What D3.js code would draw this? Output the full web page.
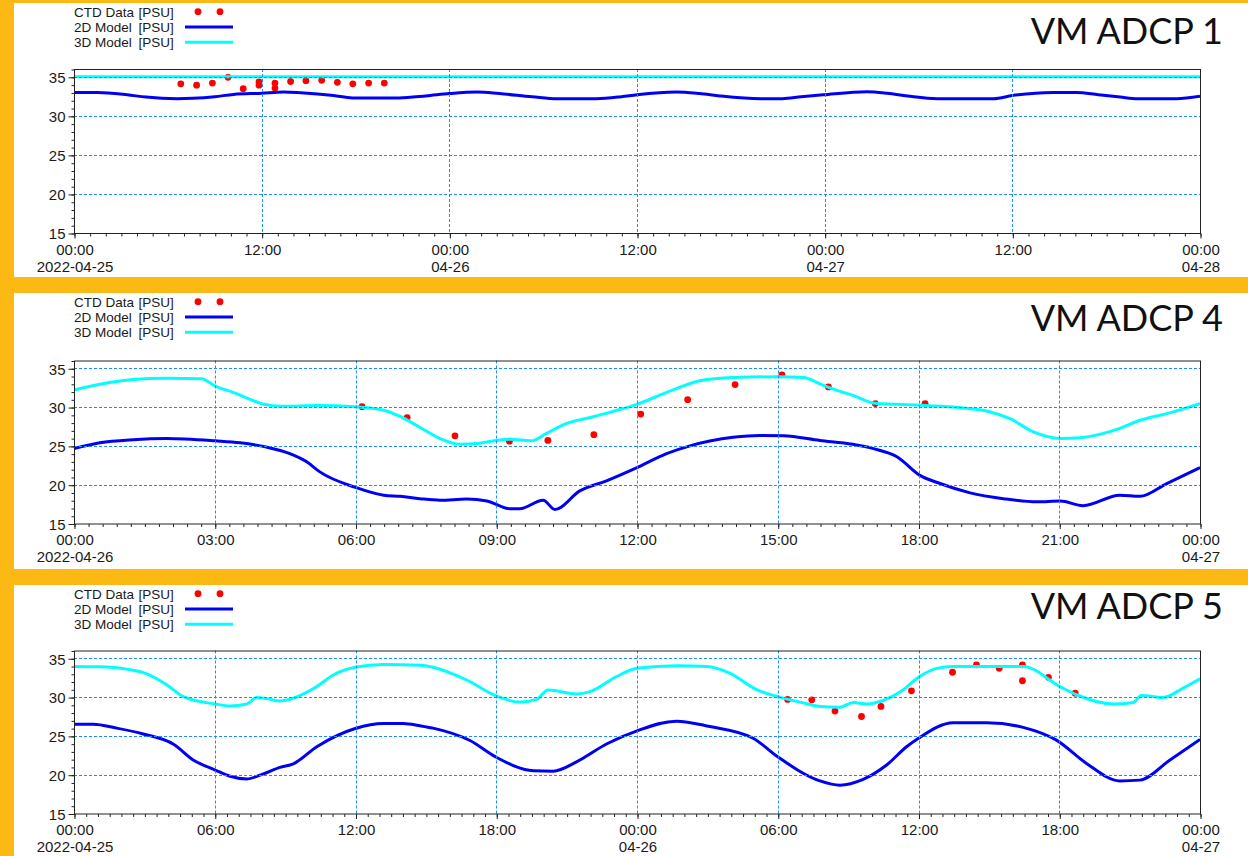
<!DOCTYPE html>
<html><head><meta charset="utf-8">
<script src="https://cdn.jsdelivr.net/npm/d3@7"></script>
<style>html,body{margin:0;padding:0;background:#FDB913;} svg{display:block}</style>
</head><body><svg id="c" width="1248" height="856"></svg>
<script>
// ---------------- DATA ----------------
const titles = ["VM ADCP 1", "VM ADCP 4", "VM ADCP 5"];
const startDates = ["2022-04-25", "2022-04-26", "2022-04-25"];
const spanHours = [72, 24, 48];
const legendLabels = ["CTD Data", "2D Model", "3D Model"];
const legendUnit = "[PSU]";
const yTicks = [15, 20, 25, 30, 35];
const yDomain = [15, 36];

// [hours since start, salinity PSU]
const adcp1_ctd = [[6.83,34.1],[7.84,33.93],[8.85,34.2],[9.85,34.93],[10.82,33.48],[11.83,34.35],[11.83,33.93],
  [12.85,34.2],[12.85,33.56],[13.85,34.4],[14.83,34.5],[15.84,34.55],[16.84,34.3],[17.83,34.1],[18.84,34.2],[19.84,34.2]];
const adcp1_2d = [[0,33.0],[1.5,33.0],[3.4,32.7],[4.6,32.4],[6.6,32.2],[7.6,32.25],[9,32.45],[10.2,32.75],[12,32.9],
  [13.4,33.05],[14.5,32.95],[16.6,32.6],[17.8,32.3],[20.8,32.3],[22.5,32.55],[24,32.85],[25.8,33.05],[27.2,32.85],
  [29.3,32.45],[30.9,32.2],[33.4,32.2],[35,32.45],[36,32.7],[38.5,33.05],[40,32.85],[41.3,32.55],[43.9,32.2],
  [45.3,32.2],[46.5,32.45],[47.9,32.7],[50.7,33.1],[52,32.9],[53.3,32.55],[55.2,32.2],[58.8,32.2],[60,32.6],
  [62.6,33.0],[64.1,33.0],[65.5,32.7],[66.9,32.4],[68,32.2],[70.5,32.2],[72,32.5]];
const adcp1_3d = [[0,35.0],[72,35.0]];

const adcp4_ctd = [[6.14,30.05],[7.1,28.65],[8.12,26.3],[9.28,25.6],[10.1,25.7],[11.08,26.45],[12.08,29.1],
  [13.08,30.95],[14.09,32.9],[15.09,34.15],[16.08,32.6],[17.08,30.45],[18.14,30.45]];
const adcp4_2d = [[0,24.65],[0.55,25.4],[1.26,25.8],[1.97,25.95],[3.01,25.65],[3.54,25.4],[4.1,24.85],[4.6,24.0],
  [4.96,22.95],[5.24,21.65],[6.0,19.65],[6.6,18.65],[6.95,18.5],[7.37,18.2],[7.8,18.0],[8.37,18.15],[8.8,17.9],
  [9.29,16.9],[9.5,16.9],[10.0,18.0],[10.25,16.8],[10.78,19.2],[11.35,20.5],[12.0,22.2],[12.63,24.0],[13.13,25.0],
  [14.05,26.1],[14.62,26.35],[15.12,26.3],[15.9,25.7],[16.6,25.2],[17.04,24.65],[17.54,23.6],[18.03,21.2],
  [18.46,20.15],[19.1,18.95],[19.81,18.2],[20.52,17.8],[21.02,17.9],[21.51,17.3],[22.29,18.65],[22.72,18.5],
  [23.29,20.15],[24,22.2]];
const adcp4_3d = [[0,32.2],[0.55,32.95],[1.26,33.55],[1.97,33.7],[2.72,33.65],[3.01,32.7],[3.39,31.9],[3.75,31.0],
  [4.1,30.3],[4.46,30.1],[5.17,30.2],[6.0,30.05],[6.6,29.6],[6.95,28.8],[7.37,27.4],[7.8,25.95],[8.23,25.2],
  [8.58,25.3],[9.0,25.7],[9.29,25.85],[9.75,25.65],[10.07,26.6],[10.5,27.9],[11.07,28.75],[11.49,29.45],[12.0,30.35],
  [12.35,31.2],[12.85,32.4],[13.34,33.4],[14.05,33.8],[15.0,33.9],[15.55,33.8],[15.9,33.0],[16.1,32.5],[16.6,31.5],
  [17.1,30.45],[18.03,30.25],[18.74,30.0],[19.45,29.5],[19.95,28.5],[20.45,26.8],[21.02,25.95],[21.45,26.05],
  [22.29,27.25],[22.72,28.3],[23.29,29.15],[24,30.45]];

const adcp5_ctd = [[30.42,29.7],[31.45,29.65],[32.44,28.2],[33.57,27.5],[34.4,28.8],[35.7,30.8],[37.45,33.2],
  [38.47,34.15],[39.44,33.7],[40.43,34.15],[40.43,32.1],[41.54,32.55],[42.68,30.5]];
const adcp5_2d = [[0,26.5],[0.82,26.5],[1.82,26.0],[2.95,25.25],[4.26,23.9],[5.08,21.9],[6.02,20.6],[6.65,19.8],
  [7.36,19.45],[8.07,20.1],[8.78,20.95],[9.35,21.4],[10.35,23.6],[11.99,25.95],[13.18,26.6],[14.04,26.6],[14.75,26.3],
  [15.3,26.0],[16.88,24.4],[18.0,22.25],[19.58,20.5],[20.43,20.45],[21.42,21.65],[22.7,23.95],[24.0,25.65],
  [25.68,26.9],[27.1,26.2],[28.95,24.7],[30.0,22.3],[31.8,19.2],[32.65,18.65],[33.64,19.4],[34.64,21.25],
  [35.49,23.6],[36.0,24.7],[37.48,26.7],[38.9,26.7],[40.46,26.1],[41.88,24.45],[43.16,21.45],[44.58,19.2],
  [45.44,19.3],[46.72,21.9],[48,24.55]];
const adcp5_3d = [[0,33.95],[1.1,33.9],[2.24,33.6],[3.1,33.0],[3.95,31.6],[4.66,30.05],[6.02,29.1],[6.65,28.85],
  [7.36,29.1],[7.79,29.95],[8.22,29.8],[8.78,29.5],[9.35,29.85],[10.35,31.35],[11.05,32.85],[11.99,33.85],
  [13.18,34.2],[14.75,34.1],[15.3,33.85],[16.74,32.2],[18.0,30.15],[19.0,29.35],[19.72,29.7],[20.21,30.9],
  [21.42,30.4],[22.0,30.7],[23.13,32.65],[24.0,33.7],[25.68,34.05],[26.96,33.95],[27.95,33.1],[29.1,30.95],
  [30.0,30.05],[30.94,29.35],[31.8,28.8],[32.65,28.7],[33.22,29.3],[33.79,29.1],[34.21,29.3],[35.35,30.95],
  [36.0,32.55],[36.77,33.7],[37.48,33.95],[40.46,33.95],[42.03,31.35],[42.74,30.3],[44.3,29.1],[45.15,29.3],
  [45.5,30.2],[46.43,29.95],[47.28,31.15],[48,32.35]];

const seriesCTD = [adcp1_ctd, adcp4_ctd, adcp5_ctd];
const series2D = [adcp1_2d, adcp4_2d, adcp5_2d];
const series3D = [adcp1_3d, adcp4_3d, adcp5_3d];

// ---------------- LAYOUT ----------------
const layout = [
  {top: 3,   bottom: 277, plotTop: 69,    plotBottom: 233,   titleY: 44,    majorH: 12, minorMin: 60},
  {top: 293, bottom: 569, plotTop: 360.5, plotBottom: 523.5, titleY: 331,   majorH: 3,  minorMin: 18},
  {top: 585, bottom: 856, plotTop: 650.5, plotBottom: 813.5, titleY: 618.5, majorH: 6,  minorMin: 30}
];
const plotLeft = 74, plotRight = 1200;
const GOLD = "#FDB913", GRID = "#1E8CFF", BLUE = "#0000F5", CYAN = "#00FFFF", RED = "#FF0000";
const FONT = "'Liberation Sans', Arial, sans-serif";

const svg = d3.select("#c");
svg.append("rect").attr("width", 1248).attr("height", 856).attr("fill", GOLD);

const fmtTime = d3.utcFormat("%H:%M");
const fmtFull = d3.utcFormat("%Y-%m-%d");
const fmtMD = d3.utcFormat("%m-%d");

layout.forEach((L, i) => {
  const g = svg.append("g");
  g.append("rect").attr("x", 14).attr("y", L.top).attr("width", 1248 - 14).attr("height", L.bottom - L.top).attr("fill", "#fff");

  const t0 = new Date(startDates[i] + "T00:00:00Z");
  const t1 = d3.utcHour.offset(t0, spanHours[i]);
  const toDate = h => new Date(t0.getTime() + h * 3600000);

  const x = d3.scaleUtc().domain([t0, t1]).range([plotLeft, plotRight]);
  const y = d3.scaleLinear().domain(yDomain).range([L.plotBottom, L.plotTop]);

  const majors = d3.range(0, spanHours[i] + 0.001, L.majorH).map(toDate);
  const minors = d3.range(0, spanHours[i] * 60 + 0.001, L.minorMin).map(m => new Date(t0.getTime() + m * 60000));

  // clip
  const cid = "clip" + i;
  svg.append("clipPath").attr("id", cid).append("rect")
    .attr("x", plotLeft).attr("y", L.plotTop).attr("width", plotRight - plotLeft).attr("height", L.plotBottom - L.plotTop);
  const marks = g.append("g").attr("clip-path", `url(#${cid})`);

  marks.selectAll("circle").data(seriesCTD[i]).join("circle")
    .attr("cx", d => x(toDate(d[0]))).attr("cy", d => y(d[1])).attr("r", 3.4).attr("fill", RED);

  const line = d3.line().x(d => x(toDate(d[0]))).y(d => y(d[1])).curve(d3.curveMonotoneX);
  marks.append("path").datum(series2D[i]).attr("d", line).attr("fill", "none").attr("stroke", BLUE).attr("stroke-width", 3).attr("stroke-linejoin", "round");
  marks.append("path").datum(series3D[i]).attr("d", line).attr("fill", "none").attr("stroke", CYAN).attr("stroke-width", 3).attr("stroke-linejoin", "round");

  // grid (drawn over the data, as in the reference)
  const grid = g.append("g").attr("stroke", GRID).attr("stroke-width", 1).attr("stroke-dasharray", "3,2").attr("fill", "none");
  yTicks.filter(v => v > yDomain[0]).forEach(v => {
    grid.append("line").attr("x1", plotLeft).attr("x2", plotRight).attr("y1", Math.round(y(v)) + 0.5).attr("y2", Math.round(y(v)) + 0.5);
  });
  majors.slice(1, -1).forEach(d => {
    grid.append("line").attr("x1", Math.round(x(d)) + 0.5).attr("x2", Math.round(x(d)) + 0.5).attr("y1", L.plotTop).attr("y2", L.plotBottom);
  });

  // frame
  g.append("rect").attr("x", plotLeft + 0.5).attr("y", L.plotTop + 0.5).attr("width", plotRight - plotLeft).attr("height", L.plotBottom - L.plotTop)
    .attr("fill", "none").attr("stroke", "#222").attr("stroke-width", 1);

  // y axis
  const yMinor = g.append("g").attr("transform", `translate(${plotLeft + 0.5},0.5)`)
    .call(d3.axisLeft(y).tickValues(d3.range(15, 37)).tickSize(3).tickFormat(""));
  const yMajor = g.append("g").attr("transform", `translate(${plotLeft + 0.5},0.5)`)
    .call(d3.axisLeft(y).tickValues(yTicks).tickSize(6).tickPadding(3).tickFormat(d3.format("d")));
  [yMinor, yMajor].forEach(a => { a.select(".domain").remove(); a.selectAll("line").attr("stroke", "#222"); });
  yMajor.selectAll("text").attr("font-family", FONT).attr("font-size", 15).attr("fill", "#1a1a1a").attr("dy", "0.36em");

  // x axis
  const xMinor = g.append("g").attr("transform", `translate(0.5,${L.plotBottom + 0.5})`)
    .call(d3.axisBottom(x).tickValues(minors).tickSize(3).tickFormat(""));
  const xMajor = g.append("g").attr("transform", `translate(0.5,${L.plotBottom + 0.5})`)
    .call(d3.axisBottom(x).tickValues(majors).tickSize(5).tickFormat(fmtTime));
  [xMinor, xMajor].forEach(a => { a.select(".domain").remove(); a.selectAll("line").attr("stroke", "#222"); });
  xMajor.selectAll("text").attr("font-family", FONT).attr("font-size", 15).attr("fill", "#1a1a1a")
    .attr("y", 21).attr("dy", 0)
    .each(function (d, k) {
      const isMidnight = d.getUTCHours() === 0;
      if (isMidnight) {
        d3.select(this.parentNode).append("text").attr("font-family", FONT).attr("font-size", 15).attr("fill", "#1a1a1a")
          .attr("text-anchor", "middle").attr("y", 38).text(k === 0 ? fmtFull(d) : fmtMD(d));
      }
    });

  // legend
  const rowY = k => L.top + 8.7 + k * 15.3;
  legendLabels.forEach((lab, k) => {
    g.append("text").attr("x", 74).attr("y", rowY(k) + 4.8).attr("font-family", FONT).attr("font-size", 13.5).attr("fill", "#1a1a1a").text(lab);
    g.append("text").attr("x", 138.5).attr("y", rowY(k) + 4.8).attr("font-family", FONT).attr("font-size", 13.5).attr("fill", "#1a1a1a").text(legendUnit);
  });
  [198, 220].forEach(cx => g.append("circle").attr("cx", cx).attr("cy", rowY(0)).attr("r", 3.4).attr("fill", RED));
  g.append("line").attr("x1", 185).attr("x2", 233).attr("y1", rowY(1)).attr("y2", rowY(1)).attr("stroke", BLUE).attr("stroke-width", 3);
  g.append("line").attr("x1", 185).attr("x2", 233).attr("y1", rowY(2)).attr("y2", rowY(2)).attr("stroke", CYAN).attr("stroke-width", 3);

  // title
  g.append("text").attr("x", 1223).attr("y", L.titleY).attr("text-anchor", "end")
    .attr("font-family", "Lato, 'Open Sans', sans-serif").attr("font-size", 36).attr("fill", "#111").text(titles[i]);
});
</script></body></html>
